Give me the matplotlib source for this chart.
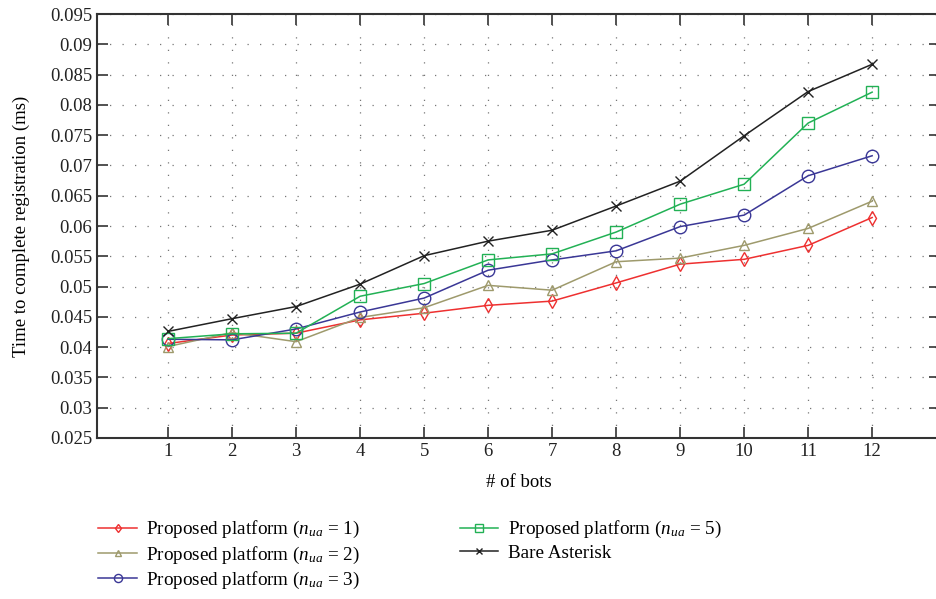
import numpy as np
import matplotlib
matplotlib.use("agg")
import matplotlib.pyplot as plt

plt.rcParams['font.family'] = ['Liberation Serif', 'DejaVu Serif']
plt.rcParams['mathtext.fontset'] = 'custom'
plt.rcParams['mathtext.rm'] = 'Liberation Serif'
plt.rcParams['mathtext.it'] = 'Liberation Serif:italic'

bots = [1, 2, 3, 4, 5, 6, 7, 8, 9, 10, 11, 12]

# time to complete registration (ms)
nua1 = [0.0406, 0.0420, 0.0423, 0.0445, 0.0456, 0.0469, 0.0476, 0.0506, 0.0537, 0.0545, 0.0568, 0.0614]
nua2 = [0.0401, 0.0424, 0.0409, 0.0449, 0.0465, 0.0502, 0.0494, 0.0541, 0.0547, 0.0568, 0.0596, 0.0641]
nua3 = [0.0413, 0.0412, 0.0430, 0.0458, 0.0481, 0.0527, 0.0544, 0.0559, 0.0599, 0.0618, 0.0683, 0.0716]
nua5 = [0.0414, 0.0422, 0.0423, 0.0484, 0.0505, 0.0544, 0.0554, 0.0590, 0.0636, 0.0669, 0.0770, 0.0821]
bare = [0.0426, 0.0447, 0.0467, 0.0504, 0.0551, 0.0575, 0.0593, 0.0633, 0.0674, 0.0749, 0.0822, 0.0867]

labels = [r'Proposed platform ($n_{ua}$ = 1)',
          r'Proposed platform ($n_{ua}$ = 2)',
          r'Proposed platform ($n_{ua}$ = 3)',
          r'Proposed platform ($n_{ua}$ = 5)',
          'Bare Asterisk']

yticks = [0.025, 0.03, 0.035, 0.04, 0.045, 0.05, 0.055, 0.06, 0.065, 0.07, 0.075, 0.08, 0.085, 0.09, 0.095]
ytick_labels = ['0.025', '0.03', '0.035', '0.04', '0.045', '0.05', '0.055', '0.06',
                '0.065', '0.07', '0.075', '0.08', '0.085', '0.09', '0.095']

fig = plt.figure(figsize=(9.36, 5.99), dpi=100)
# right spine sits just outside the picture, as in the original
ax = fig.add_axes([97 / 936, 0.2688, 843 / 936, 0.7078])

ax.plot(bots, nua1, color='#ee3030', marker='d', ms=7, mfc='none', lw=1.1, label=labels[0])
ax.plot(bots, nua2, color='#9e9a6c', marker='^', ms=7, mfc='none', lw=1.1, label=labels[1])
ax.plot(bots, nua3, color='#3a3796', marker='o', ms=9, mfc='none', lw=1.1, label=labels[2])
ax.plot(bots, nua5, color='#22b155', marker='s', ms=8.5, mfc='none', lw=1.1, label=labels[3])
ax.plot(bots, bare, color='#222222', marker='x', ms=6.5, lw=1.1, label=labels[4])

ax.set_xlim(-0.11, 13.06)
ax.set_ylim(0.025, 0.095)
ax.set_xticks(bots)
ax.set_yticks(yticks)
ax.set_yticklabels(ytick_labels)
ax.grid(True, color='#777777', linestyle=(0, (1, 9)), linewidth=0.9)
ax.tick_params(direction='in', top=True, right=True, length=8, width=1.2,
               labelsize=13.5, colors='#333333', labelcolor='#222222')
for s in ax.spines.values():
    s.set_color('#333333')
    s.set_linewidth(1.5)

ax.set_xlabel('# of bots', fontsize=13.5, labelpad=10)
ax.set_ylabel('Time to complete registration (ms)', fontsize=13.5, labelpad=14)

fig.legend(loc='upper left', bbox_to_anchor=(0.097, 0.146), ncol=2, frameon=False,
           fontsize=13.8, handlelength=2.0, columnspacing=5.2, labelspacing=0.22,
           borderaxespad=0, handletextpad=0.5, markerscale=0.65)

plt.savefig('out.png', dpi=100)
